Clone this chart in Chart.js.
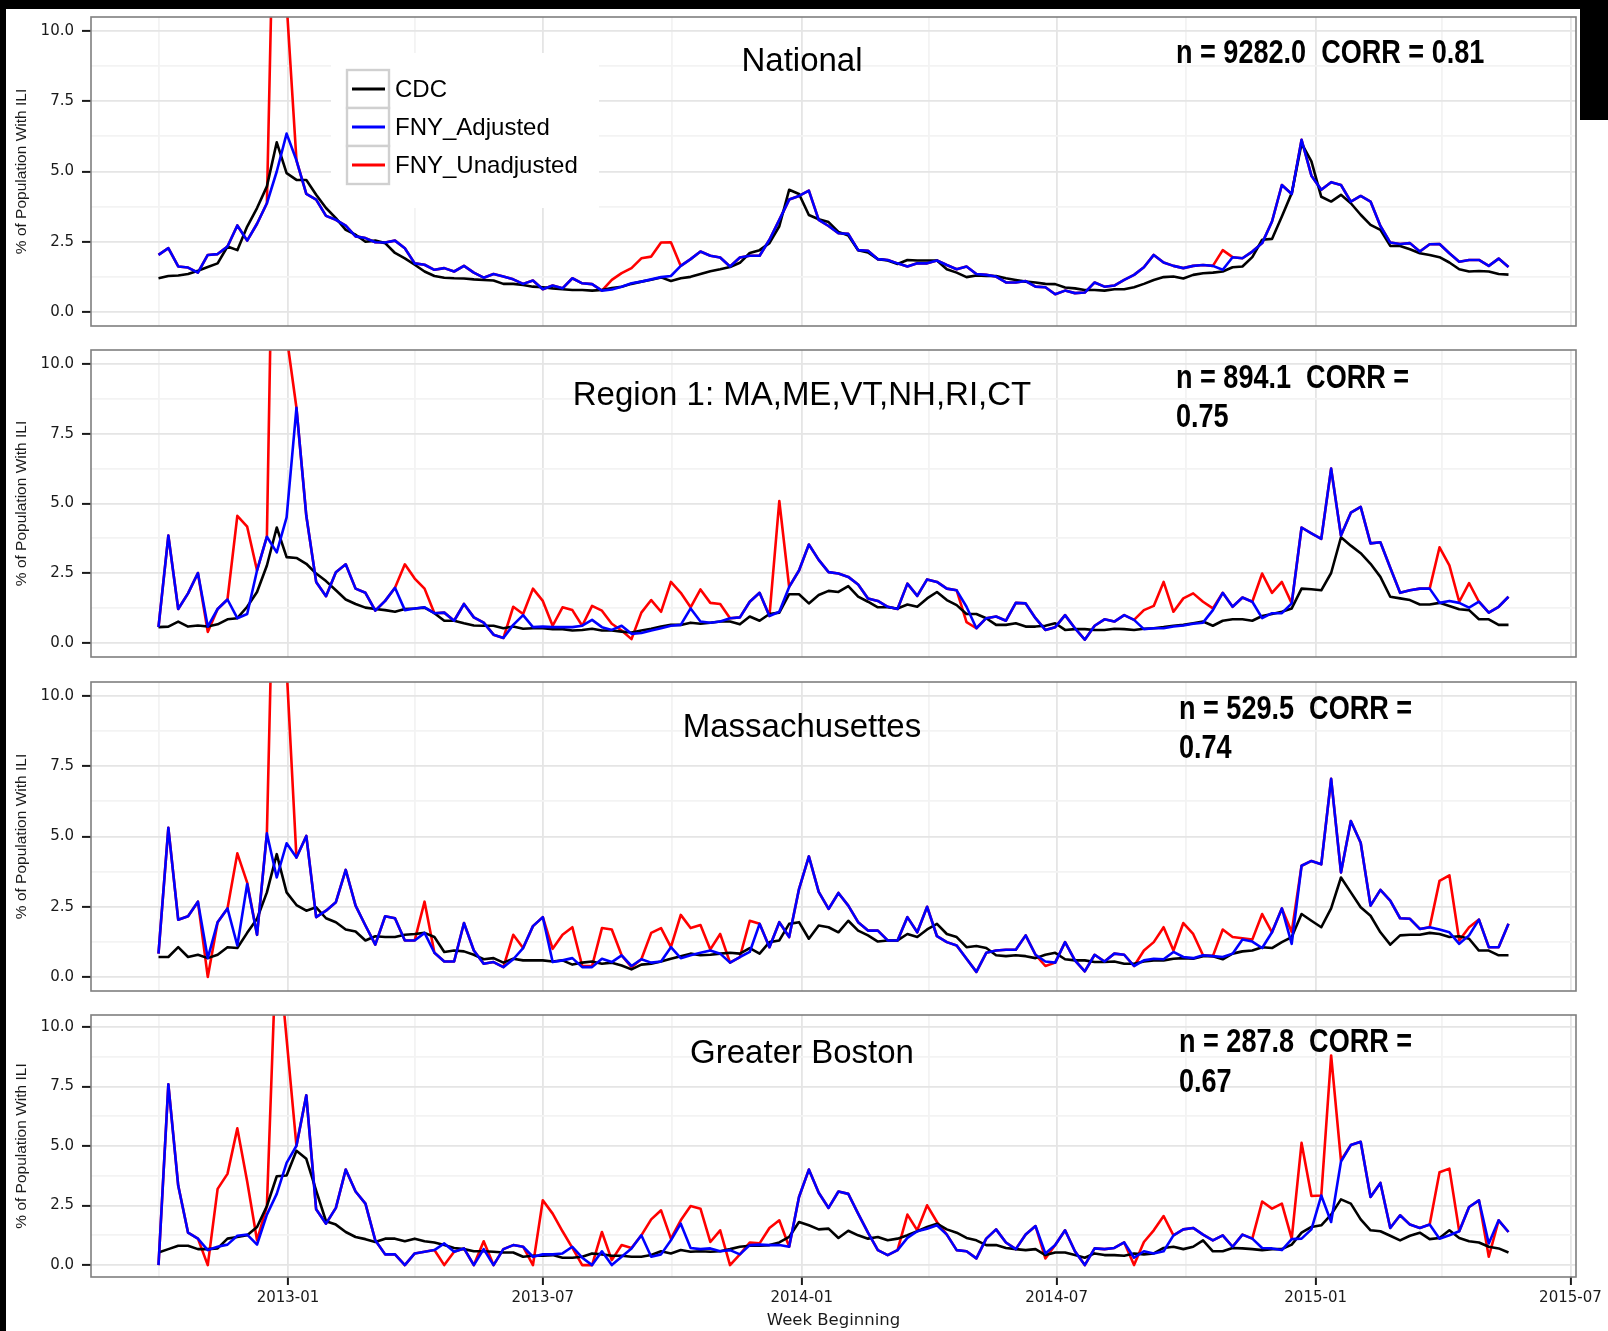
<!DOCTYPE html>
<html>
<head>
<meta charset="utf-8">
<title>ILI: CDC vs FNY</title>
<script src="https://cdn.jsdelivr.net/npm/chart.js@4.4.1/dist/chart.umd.min.js"></script>
<style>
  html, body { margin: 0; padding: 0; background: #ffffff; }
  #wrap { position: relative; width: 1608px; height: 1331px; overflow: hidden; background: #ffffff; }
  .panel { position: absolute; left: 0; width: 1608px; }
  .frame { position: absolute; background: #000000; z-index: 5; }
</style>
</head>
<body>
<div id="wrap">
  <div class="panel" id="p0"><canvas id="c0"></canvas></div>
  <div class="panel" id="p1"><canvas id="c1"></canvas></div>
  <div class="panel" id="p2"><canvas id="c2"></canvas></div>
  <div class="panel" id="p3"><canvas id="c3"></canvas></div>
  <div class="frame" style="left:0;top:0;width:1608px;height:9px"></div>
  <div class="frame" style="left:0;top:0;width:6px;height:1331px"></div>
  <div class="frame" style="left:1580px;top:0;width:28px;height:120px"></div>
</div>
<script>
// ---------------------------------------------------------------------------
// Weekly % of population with influenza-like illness, Oct 2012 - May 2015
// ---------------------------------------------------------------------------
const seriesNames  = ['CDC', 'FNY_Adjusted', 'FNY_Unadjusted'];
const seriesColors = ['#000000', '#0000ff', '#ff0000'];

const panelTitles = ['National', 'Region 1: MA,ME,VT,NH,RI,CT', 'Massachusettes', 'Greater Boston'];
const panelN      = ['9282.0', '894.1', '529.5', '287.8'];
const panelCorr   = ['0.81', '0.75', '0.74', '0.67'];

const firstWeek = '2012-10-01';   // week beginning of the first observation
const weekCount = 138;            // weekly observations through 2015-05-18

const xMajorDates  = ['2013-01-01', '2013-07-01', '2014-01-01', '2014-07-01', '2015-01-01', '2015-07-01'];
const xMajorLabels = ['2013-01', '2013-07', '2014-01', '2014-07', '2015-01', '2015-07'];
const xMinorDates  = ['2012-10-01', '2013-04-01', '2013-10-01', '2014-04-01', '2014-10-01', '2015-04-01'];

const yMajorTicks  = [0, 2.5, 5, 7.5, 10];
const yMajorLabels = ['0.0', '2.5', '5.0', '7.5', '10.0'];
const yMinorTicks  = [1.25, 3.75, 6.25, 8.75];

// ---- National ----
const nationalCDC = [
  1.2, 1.28, 1.3, 1.35, 1.47, 1.6, 1.73, 2.33, 2.2, 3.04,
  3.7, 4.47, 6.04, 4.94, 4.7, 4.7, 4.17, 3.7, 3.34, 2.92,
  2.75, 2.5, 2.54, 2.45, 2.1, 1.91, 1.68, 1.44, 1.28, 1.22,
  1.2, 1.19, 1.16, 1.14, 1.12, 1.0, 1.0, 0.96, 0.9, 0.88,
  0.84, 0.81, 0.78, 0.78, 0.76, 0.78, 0.85, 0.9, 1.0, 1.08,
  1.15, 1.23, 1.1, 1.2, 1.25, 1.35, 1.45, 1.52, 1.6, 1.75,
  2.1, 2.2, 2.45, 3.05, 4.35, 4.2, 3.45, 3.3, 3.2, 2.85,
  2.72, 2.2, 2.12, 1.88, 1.83, 1.71, 1.85, 1.83, 1.83, 1.83,
  1.52, 1.4, 1.24, 1.3, 1.28, 1.28, 1.2, 1.14, 1.08, 1.05,
  1.0, 0.99, 0.87, 0.84, 0.78, 0.78, 0.76, 0.81, 0.81, 0.88,
  1.0, 1.14, 1.24, 1.26, 1.19, 1.32, 1.38, 1.4, 1.44, 1.59,
  1.62, 1.95, 2.57, 2.6, 3.4, 4.23, 6.0, 5.36, 4.1, 3.93,
  4.17, 3.87, 3.46, 3.1, 2.92, 2.35, 2.35, 2.23, 2.09, 2.03,
  1.95, 1.76, 1.52, 1.44, 1.46, 1.44, 1.35, 1.33
];
const nationalAdjusted = [
  2.03, 2.27, 1.62, 1.58, 1.4, 2.03, 2.06, 2.33, 3.08, 2.54,
  3.14, 3.87, 5.0, 6.35, 5.4, 4.2, 4.0, 3.42, 3.28, 3.07,
  2.69, 2.63, 2.48, 2.47, 2.54, 2.27, 1.73, 1.68, 1.5, 1.56,
  1.44, 1.64, 1.4, 1.22, 1.35, 1.26, 1.16, 1.0, 1.12, 0.81,
  0.94, 0.84, 1.2, 1.02, 0.99, 0.76, 0.8, 0.9, 1.02, 1.08,
  1.16, 1.24, 1.28, 1.64, 1.88, 2.15, 2.0, 1.94, 1.62, 1.94,
  2.0, 2.0, 2.57, 3.28, 4.0, 4.13, 4.32, 3.28, 3.06, 2.8,
  2.78, 2.2, 2.18, 1.88, 1.85, 1.73, 1.62, 1.73, 1.73, 1.83,
  1.67, 1.52, 1.62, 1.35, 1.32, 1.26, 1.05, 1.05, 1.1, 0.9,
  0.88, 0.63, 0.76, 0.67, 0.69, 1.05, 0.9, 0.94, 1.14, 1.32,
  1.59, 2.03, 1.76, 1.64, 1.56, 1.64, 1.67, 1.64, 1.5, 1.95,
  1.91, 2.15, 2.45, 3.22, 4.52, 4.2, 6.13, 4.85, 4.35, 4.62,
  4.52, 3.93, 4.13, 3.93, 3.06, 2.47, 2.42, 2.45, 2.15, 2.41,
  2.42, 2.09, 1.79, 1.85, 1.85, 1.64, 1.9, 1.6
];
const nationalUnadjusted = [
  2.03, 2.27, 1.62, 1.58, 1.4, 2.03, 2.06, 2.33, 3.08, 2.54,
  3.14, 3.87, 20, 11, 5.4, 4.2, 4.0, 3.42, 3.28, 3.07,
  2.69, 2.63, 2.48, 2.47, 2.54, 2.27, 1.73, 1.68, 1.5, 1.56,
  1.44, 1.64, 1.4, 1.22, 1.35, 1.26, 1.16, 1.0, 1.12, 0.81,
  0.94, 0.84, 1.2, 1.02, 0.99, 0.76, 1.14, 1.38, 1.56, 1.91,
  1.97, 2.47, 2.48, 1.64, 1.88, 2.15, 2.0, 1.94, 1.62, 1.94,
  2.0, 2.0, 2.57, 3.28, 4.0, 4.13, 4.32, 3.28, 3.06, 2.8,
  2.78, 2.2, 2.18, 1.88, 1.85, 1.73, 1.62, 1.73, 1.73, 1.83,
  1.67, 1.52, 1.62, 1.35, 1.32, 1.26, 1.05, 1.05, 1.1, 0.9,
  0.88, 0.63, 0.76, 0.67, 0.69, 1.05, 0.9, 0.94, 1.14, 1.32,
  1.59, 2.03, 1.76, 1.64, 1.56, 1.64, 1.67, 1.64, 2.2, 1.95,
  1.91, 2.15, 2.45, 3.22, 4.52, 4.2, 6.13, 4.85, 4.35, 4.62,
  4.52, 3.93, 4.13, 3.93, 3.06, 2.47, 2.42, 2.45, 2.15, 2.41,
  2.42, 2.09, 1.79, 1.85, 1.85, 1.64, 1.9, 1.6
];

// ---- HHS Region 1 ----
const region1CDC = [
  0.57, 0.59, 0.77, 0.59, 0.63, 0.59, 0.67, 0.85, 0.89, 1.3,
  1.83, 2.78, 4.14, 3.08, 3.05, 2.84, 2.49, 2.22, 1.89, 1.56,
  1.4, 1.27, 1.22, 1.18, 1.12, 1.22, 1.24, 1.27, 1.07, 0.8,
  0.8, 0.71, 0.63, 0.62, 0.62, 0.53, 0.59, 0.51, 0.53, 0.53,
  0.5, 0.5, 0.45, 0.47, 0.51, 0.45, 0.45, 0.41, 0.38, 0.45,
  0.51, 0.59, 0.65, 0.65, 0.73, 0.69, 0.73, 0.77, 0.77, 0.67,
  0.95, 0.8, 1.04, 1.09, 1.75, 1.75, 1.42, 1.72, 1.87, 1.83,
  2.04, 1.66, 1.48, 1.28, 1.28, 1.24, 1.38, 1.3, 1.6, 1.83,
  1.54, 1.36, 1.04, 1.04, 0.89, 0.65, 0.65, 0.71, 0.59, 0.59,
  0.62, 0.71, 0.47, 0.5, 0.5, 0.47, 0.47, 0.51, 0.5, 0.47,
  0.51, 0.53, 0.57, 0.62, 0.65, 0.71, 0.77, 0.62, 0.8, 0.85,
  0.85, 0.8, 0.97, 1.04, 1.12, 1.24, 1.95, 1.93, 1.89, 2.51,
  3.79, 3.49, 3.22, 2.84, 2.37, 1.66, 1.6, 1.54, 1.38, 1.38,
  1.44, 1.33, 1.21, 1.18, 0.85, 0.85, 0.65, 0.65
];
const region1Adjusted = [
  0.57, 3.85, 1.22, 1.78, 2.51, 0.59, 1.22, 1.56, 0.89, 1.04,
  2.6, 3.81, 3.25, 4.5, 8.43, 4.56, 2.19, 1.68, 2.54, 2.82,
  1.95, 1.8, 1.16, 1.51, 1.98, 1.18, 1.24, 1.28, 1.07, 1.09,
  0.8, 1.4, 0.92, 0.73, 0.3, 0.18, 0.65, 1.0, 0.57, 0.59,
  0.57, 0.57, 0.57, 0.62, 0.83, 0.57, 0.47, 0.62, 0.33, 0.36,
  0.45, 0.53, 0.62, 0.65, 1.24, 0.77, 0.73, 0.77, 0.89, 0.92,
  1.48, 1.8, 0.97, 1.12, 2.01, 2.6, 3.53, 2.98, 2.54, 2.49,
  2.37, 2.1, 1.6, 1.51, 1.3, 1.22, 2.13, 1.69, 2.28, 2.19,
  1.95, 1.89, 1.3, 0.53, 0.89, 0.95, 0.8, 1.44, 1.42, 0.89,
  0.47, 0.57, 1.0, 0.53, 0.12, 0.62, 0.85, 0.77, 1.0, 0.83,
  0.5, 0.53, 0.53, 0.59, 0.63, 0.69, 0.73, 1.18, 1.8, 1.3,
  1.63, 1.48, 0.89, 1.07, 1.07, 1.42, 4.14, 3.93, 3.73, 6.25,
  3.85, 4.67, 4.88, 3.57, 3.61, 2.7, 1.8, 1.89, 1.95, 1.95,
  1.44, 1.51, 1.44, 1.27, 1.48, 1.09, 1.3, 1.66
];
const region1Unadjusted = [
  0.57, 3.85, 1.22, 1.78, 2.51, 0.4, 1.22, 1.56, 4.56, 4.17,
  2.6, 3.81, 24, 11, 8.43, 4.56, 2.19, 1.68, 2.54, 2.82,
  1.95, 1.8, 1.16, 1.51, 1.98, 2.82, 2.31, 1.95, 1.07, 1.09,
  0.8, 1.4, 0.92, 0.73, 0.3, 0.18, 1.3, 1.04, 1.95, 1.51,
  0.62, 1.28, 1.18, 0.62, 1.33, 1.16, 0.69, 0.45, 0.14, 1.09,
  1.54, 1.12, 2.19, 1.8, 1.28, 1.92, 1.44, 1.4, 0.89, 0.92,
  1.48, 1.8, 0.97, 5.09, 2.01, 2.6, 3.53, 2.98, 2.54, 2.49,
  2.37, 2.1, 1.6, 1.51, 1.3, 1.22, 2.13, 1.69, 2.28, 2.19,
  1.95, 1.89, 0.75, 0.53, 0.89, 0.95, 0.8, 1.44, 1.42, 0.89,
  0.47, 0.57, 1.0, 0.53, 0.12, 0.62, 0.85, 0.77, 1.0, 0.83,
  1.18, 1.33, 2.19, 1.12, 1.6, 1.78, 1.48, 1.24, 1.8, 1.3,
  1.63, 1.48, 2.49, 1.8, 2.19, 1.42, 4.14, 3.93, 3.73, 6.25,
  3.85, 4.67, 4.88, 3.57, 3.61, 2.7, 1.8, 1.89, 1.95, 1.95,
  3.43, 2.78, 1.48, 2.15, 1.48, 1.09, 1.3, 1.66
];

// ---- Massachusetts ----
const massCDC = [
  0.71, 0.71, 1.06, 0.71, 0.79, 0.67, 0.79, 1.06, 1.03, 1.57,
  2.07, 3.01, 4.37, 3.01, 2.56, 2.36, 2.48, 2.09, 1.95, 1.69,
  1.62, 1.3, 1.45, 1.42, 1.42, 1.5, 1.53, 1.57, 1.42, 0.89,
  0.94, 0.91, 0.79, 0.63, 0.67, 0.51, 0.65, 0.59, 0.59, 0.59,
  0.55, 0.59, 0.44, 0.51, 0.55, 0.47, 0.51, 0.41, 0.27, 0.44,
  0.47, 0.55, 0.65, 0.74, 0.83, 0.77, 0.79, 0.83, 0.86, 0.83,
  1.03, 0.83, 1.24, 1.3, 1.89, 1.95, 1.36, 1.83, 1.77, 1.59,
  2.0, 1.65, 1.48, 1.26, 1.3, 1.3, 1.53, 1.42, 1.69, 1.89,
  1.53, 1.42, 1.06, 1.1, 1.03, 0.77, 0.74, 0.77, 0.74, 0.67,
  0.79, 0.86, 0.63, 0.59, 0.59, 0.53, 0.53, 0.55, 0.47, 0.47,
  0.55, 0.59, 0.59, 0.65, 0.67, 0.65, 0.74, 0.74, 0.63, 0.83,
  0.91, 0.94, 1.06, 1.03, 1.24, 1.42, 2.24, 2.0, 1.77, 2.44,
  3.54, 3.01, 2.48, 2.18, 1.59, 1.15, 1.48, 1.5, 1.5, 1.57,
  1.53, 1.42, 1.45, 1.36, 0.94, 0.94, 0.77, 0.77
];
const massAdjusted = [
  0.83, 5.31, 2.04, 2.16, 2.68, 0.67, 1.95, 2.44, 1.12, 3.31,
  1.5, 5.11, 3.54, 4.76, 4.25, 5.02, 2.13, 2.36, 2.66, 3.81,
  2.54, 1.83, 1.15, 2.16, 2.09, 1.3, 1.3, 1.57, 0.86, 0.55,
  0.55, 1.92, 0.94, 0.47, 0.53, 0.35, 0.63, 1.03, 1.81, 2.13,
  0.53, 0.59, 0.67, 0.35, 0.35, 0.65, 0.53, 0.77, 0.39, 0.63,
  0.51, 0.55, 1.06, 0.67, 0.77, 0.86, 0.94, 0.83, 0.51, 0.71,
  0.89, 1.89, 1.06, 1.95, 1.42, 3.13, 4.29, 3.03, 2.42, 2.99,
  2.54, 1.95, 1.65, 1.65, 1.3, 1.3, 2.13, 1.59, 2.5, 1.45,
  1.24, 1.12, 0.65, 0.18, 0.86, 0.94, 0.97, 0.97, 1.48, 0.79,
  0.55, 0.51, 1.24, 0.59, 0.2, 0.79, 0.55, 0.83, 0.79, 0.39,
  0.59, 0.65, 0.63, 0.89, 0.71, 0.67, 0.77, 0.74, 0.71, 0.83,
  1.33, 1.26, 1.03, 1.59, 2.44, 1.18, 3.96, 4.13, 4.01, 7.05,
  3.72, 5.55, 4.78, 2.54, 3.1, 2.72, 2.09, 2.07, 1.71, 1.77,
  1.69, 1.59, 1.18, 1.48, 2.04, 1.06, 1.06, 1.89
];
const massUnadjusted = [
  0.83, 5.31, 2.04, 2.16, 2.68, 0.0, 1.95, 2.44, 4.4, 3.36,
  1.5, 5.11, 20, 11, 4.25, 5.02, 2.13, 2.36, 2.66, 3.81,
  2.54, 1.83, 1.15, 2.16, 2.09, 1.3, 1.3, 2.68, 0.86, 0.55,
  0.55, 1.92, 0.94, 0.47, 0.53, 0.35, 1.5, 1.03, 1.81, 2.13,
  1.0, 1.5, 1.77, 0.39, 0.39, 1.74, 1.69, 0.77, 0.35, 0.63,
  1.57, 1.74, 1.06, 2.21, 1.74, 1.85, 0.98, 1.53, 0.51, 0.71,
  2.0, 1.89, 1.06, 1.95, 1.42, 3.13, 4.29, 3.03, 2.42, 2.99,
  2.54, 1.95, 1.65, 1.65, 1.3, 1.3, 2.13, 1.59, 2.5, 1.45,
  1.24, 1.12, 0.65, 0.18, 0.86, 0.94, 0.97, 0.97, 1.48, 0.79,
  0.39, 0.51, 1.24, 0.59, 0.2, 0.79, 0.55, 0.83, 0.79, 0.39,
  0.94, 1.24, 1.77, 0.94, 1.92, 1.53, 0.77, 0.74, 1.69, 1.42,
  1.38, 1.33, 2.24, 1.59, 2.44, 1.6, 3.96, 4.13, 4.01, 7.05,
  3.72, 5.55, 4.78, 2.54, 3.1, 2.72, 2.09, 2.07, 1.71, 1.77,
  3.42, 3.62, 1.3, 1.77, 2.04, 1.06, 1.06, 1.89
];

// ---- Greater Boston ----
const bostonCDC = [
  0.53, 0.67, 0.81, 0.81, 0.67, 0.67, 0.7, 1.11, 1.18, 1.25,
  1.6, 2.48, 3.73, 3.76, 4.8, 4.46, 3.13, 1.84, 1.7, 1.39,
  1.18, 1.09, 0.97, 1.11, 1.11, 1.0, 1.11, 1.0, 0.95, 0.84,
  0.72, 0.67, 0.58, 0.58, 0.56, 0.53, 0.53, 0.35, 0.39, 0.39,
  0.42, 0.31, 0.31, 0.35, 0.49, 0.45, 0.39, 0.39, 0.35, 0.35,
  0.42, 0.58, 0.49, 0.63, 0.56, 0.58, 0.56, 0.58, 0.67, 0.77,
  0.81, 0.81, 0.84, 0.95, 1.18, 1.81, 1.67, 1.5, 1.53, 1.14,
  1.44, 1.25, 1.11, 1.18, 1.04, 1.11, 1.25, 1.42, 1.6, 1.74,
  1.5, 1.36, 1.14, 1.04, 0.84, 0.84, 0.72, 0.67, 0.63, 0.67,
  0.42, 0.53, 0.53, 0.42, 0.31, 0.49, 0.42, 0.42, 0.39, 0.49,
  0.45, 0.49, 0.72, 0.77, 0.67, 0.77, 1.04, 0.58, 0.58, 0.72,
  0.7, 0.67, 0.63, 0.67, 0.67, 0.86, 1.36, 1.6, 1.67, 2.12,
  2.76, 2.58, 1.92, 1.46, 1.42, 1.23, 1.04, 1.23, 1.36, 1.09,
  1.14, 1.46, 1.14, 1.0, 0.95, 0.77, 0.7, 0.53
];
const bostonAdjusted = [
  0.0, 7.59, 3.34, 1.36, 1.11, 0.63, 0.77, 0.86, 1.23, 1.28,
  0.86, 2.12, 2.99, 4.29, 5.01, 7.13, 2.34, 1.74, 2.4, 4.01,
  3.09, 2.58, 1.04, 0.45, 0.45, 0.0, 0.49, 0.56, 0.63, 0.91,
  0.56, 0.7, 0.0, 0.67, 0.0, 0.67, 0.84, 0.77, 0.35, 0.45,
  0.45, 0.49, 0.77, 0.31, 0.0, 0.58, 0.0, 0.35, 0.7, 1.25,
  0.35, 0.45, 1.04, 1.74, 0.72, 0.67, 0.7, 0.58, 0.63, 0.45,
  0.84, 0.86, 0.84, 0.84, 0.77, 2.86, 4.01, 3.04, 2.4, 3.09,
  2.99, 2.16, 1.36, 0.63, 0.42, 0.63, 1.14, 1.42, 1.53, 1.67,
  1.28, 0.63, 0.58, 0.28, 1.11, 1.5, 0.95, 0.67, 1.28, 1.64,
  0.49, 0.84, 1.46, 0.58, 0.0, 0.7, 0.67, 0.72, 0.95, 0.31,
  0.58, 0.49, 0.58, 1.25, 1.5, 1.56, 1.28, 1.04, 1.25, 0.77,
  1.28, 1.11, 0.72, 0.7, 0.63, 1.09, 1.11, 1.5, 2.92, 1.81,
  4.35, 5.04, 5.18, 2.86, 3.45, 1.56, 2.09, 1.7, 1.56, 1.7,
  1.11, 1.25, 1.42, 2.44, 2.72, 0.91, 1.88, 1.39
];
const bostonUnadjusted = [
  0.0, 7.59, 3.34, 1.36, 1.11, 0.0, 3.2, 3.83, 5.74, 3.51,
  1.04, 2.48, 14, 9.5, 5.01, 7.13, 2.34, 1.74, 2.4, 4.01,
  3.09, 2.58, 1.04, 0.45, 0.45, 0.0, 0.49, 0.56, 0.63, 0.0,
  0.56, 0.7, 0.0, 1.0, 0.0, 0.67, 0.84, 0.77, 0.0, 2.72,
  2.16, 1.42, 0.72, 0.0, 0.0, 1.39, 0.21, 0.84, 0.72, 1.25,
  1.92, 2.3, 1.11, 1.88, 2.48, 2.37, 0.97, 1.46, 0.0, 0.45,
  0.95, 0.91, 1.56, 1.88, 0.77, 2.86, 4.01, 3.04, 2.4, 3.09,
  2.99, 2.16, 1.36, 0.63, 0.42, 0.63, 2.12, 1.46, 2.51, 1.81,
  1.28, 0.63, 0.58, 0.28, 1.11, 1.5, 0.95, 0.67, 1.28, 1.64,
  0.28, 0.84, 1.46, 0.58, 0.0, 0.7, 0.67, 0.72, 0.95, 0.0,
  0.97, 1.46, 2.06, 1.25, 1.5, 1.56, 1.28, 1.04, 1.25, 0.77,
  1.28, 1.11, 2.67, 2.37, 2.58, 1.11, 5.13, 2.9, 2.92, 8.8,
  4.39, 5.04, 5.18, 2.86, 3.45, 1.56, 2.09, 1.7, 1.56, 1.7,
  3.9, 4.05, 1.42, 2.44, 2.72, 0.35, 1.88, 1.39
];

const panelSeries = [
  [nationalCDC, nationalAdjusted, nationalUnadjusted],
  [region1CDC, region1Adjusted, region1Unadjusted],
  [massCDC, massAdjusted, massUnadjusted],
  [bostonCDC, bostonAdjusted, bostonUnadjusted]
];

// ---------------------------------------------------------------------------
// Page geometry and styling
// ---------------------------------------------------------------------------
// plot: top/bottom of the panel frame, in page pixels
const panelBoxes = [
  { top: 12,   height: 317, plotTop: 17,   plotBottom: 326,  titleY: 71,     noteX: 1176, noteY: [63] },
  { top: 345,  height: 315, plotTop: 350,  plotBottom: 657,  titleY: 404.5,  noteX: 1176, noteY: [388, 427] },
  { top: 677,  height: 317, plotTop: 682,  plotBottom: 991,  titleY: 736.5,  noteX: 1179, noteY: [718.5, 757.5] },
  { top: 1010, height: 321, plotTop: 1015, plotBottom: 1277, titleY: 1062.5, noteX: 1179, noteY: [1052, 1092] }
];
const PLOT_LEFT = 91;
const PLOT_RIGHT = 1576;
const TITLE_X = 802;
const GRID_MAJOR = '#e5e5e5';
const GRID_MINOR = '#f3f3f3';
const TICK_FONT = { family: '"DejaVu Sans", sans-serif', size: 15 };
const SANS = '"Liberation Sans", Arial, Helvetica, sans-serif';

const DAY = 86400000;
const toTime = s => Date.parse(s + 'T00:00:00Z');
const weekTimes = Array.from({ length: weekCount }, (_, i) => toTime(firstWeek) + i * 7 * DAY);
const xMajorTimes = xMajorDates.map(toTime);
const xMinorTimes = xMinorDates.map(toTime);
const span = weekTimes[weekTimes.length - 1] - weekTimes[0];
const X_MIN = weekTimes[0] - 0.05 * span;
const X_MAX = weekTimes[weekTimes.length - 1] + 0.05 * span;

const isMinorX = v => xMinorTimes.includes(v);
const isMinorY = v => yMinorTicks.includes(v);

// Panel decorations: frame, title, n/CORR note and (first panel) legend
function decorPlugin(k) {
  const box = panelBoxes[k];
  return {
    id: 'panelDecor' + k,
    afterDraw(chart) {
      const ctx = chart.ctx;
      const a = chart.chartArea;
      ctx.save();
      ctx.strokeStyle = '#7f7f7f';
      ctx.lineWidth = 1.6;
      ctx.strokeRect(a.left, a.top, a.right - a.left, a.bottom - a.top);

      ctx.fillStyle = '#000';
      ctx.font = '33px ' + SANS;
      ctx.textAlign = 'center';
      ctx.textBaseline = 'alphabetic';
      ctx.fillText(panelTitles[k], TITLE_X, box.titleY - box.top);

      const lines = box.noteY.length === 1
        ? ['n = ' + panelN[k] + '  CORR = ' + panelCorr[k]]
        : ['n = ' + panelN[k] + '  CORR =', panelCorr[k]];
      ctx.font = 'bold 33px ' + SANS;
      ctx.textAlign = 'left';
      lines.forEach((line, j) => {
        ctx.save();
        ctx.translate(box.noteX, box.noteY[j] - box.top);
        ctx.scale(0.82, 1);
        ctx.fillText(line, 0, 0);
        ctx.restore();
      });

      if (k === 0) {
        const off = box.top;
        ctx.fillStyle = '#ffffff';
        ctx.fillRect(331, 53 - off, 268, 155);
        const rowTop = [70, 108, 146];
        seriesNames.forEach((name, j) => {
          const y0 = rowTop[j] - off;
          ctx.fillStyle = '#ffffff';
          ctx.fillRect(347, y0, 42, 38);
          ctx.strokeStyle = '#d0d0d0';
          ctx.lineWidth = 2.4;
          ctx.strokeRect(347, y0, 42, 38);
          ctx.strokeStyle = seriesColors[j];
          ctx.lineWidth = 3;
          ctx.beginPath();
          ctx.moveTo(352, y0 + 19);
          ctx.lineTo(385, y0 + 19);
          ctx.stroke();
          ctx.fillStyle = '#000';
          ctx.font = '24px ' + SANS;
          ctx.textAlign = 'left';
          ctx.textBaseline = 'middle';
          ctx.fillText(name, 395, y0 + 20);
        });
      }
      ctx.restore();
    }
  };
}

function makeChart(k) {
  const box = panelBoxes[k];
  const holder = document.getElementById('p' + k);
  holder.style.top = box.top + 'px';
  holder.style.height = box.height + 'px';
  const bottomPanel = k === panelBoxes.length - 1;
  const xAxisHeight = bottomPanel ? box.top + box.height - box.plotBottom : 0;
  const drawOrder = [1, 0, 2];  // adjusted on top, unadjusted underneath

  const datasets = panelSeries[k].map((values, j) => ({
    label: seriesNames[j],
    data: values.map((v, i) => ({ x: weekTimes[i], y: v })),
    borderColor: seriesColors[j],
    backgroundColor: seriesColors[j],
    borderWidth: 2.6,
    borderJoinStyle: 'round',
    pointRadius: 0,
    pointHoverRadius: 0,
    tension: 0,
    fill: false,
    clip: 0,
    order: drawOrder[j]
  }));

  const padding = {
    top: box.plotTop - box.top,
    left: 0,
    right: 1608 - PLOT_RIGHT,
    bottom: box.top + box.height - box.plotBottom - xAxisHeight
  };

  const chart = new Chart(document.getElementById('c' + k), {
    type: 'line',
    data: { datasets },
    options: {
      responsive: true,
      maintainAspectRatio: false,
      animation: false,
      devicePixelRatio: 1,
      events: [],
      layout: { padding },
      plugins: { legend: { display: false }, tooltip: { enabled: false } },
      scales: {
        x: {
          type: 'linear',
          min: X_MIN,
          max: X_MAX,
          afterBuildTicks: s => {
            s.ticks = xMinorTimes.concat(xMajorTimes).sort((a, b) => a - b).map(v => ({ value: v }));
          },
          afterFit: s => {
            s.height = xAxisHeight;
            s.paddingLeft = 0;
            s.paddingRight = 0;
            s.paddingTop = 0;
            s.paddingBottom = 0;
          },
          border: { display: false },
          grid: {
            color: c => (c.tick && isMinorX(c.tick.value)) ? GRID_MINOR : GRID_MAJOR,
            lineWidth: 1.8,
            drawTicks: bottomPanel,
            tickLength: 8,
            tickWidth: 2,
            tickColor: c => (c.tick && isMinorX(c.tick.value)) ? 'rgba(0,0,0,0)' : '#1a1a1a'
          },
          ticks: {
            display: bottomPanel,
            autoSkip: false,
            maxRotation: 0,
            minRotation: 0,
            padding: 4,
            color: '#1a1a1a',
            font: TICK_FONT,
            callback: v => {
              const i = xMajorTimes.indexOf(v);
              return i >= 0 ? xMajorLabels[i] : '';
            }
          },
          title: {
            display: bottomPanel,
            text: 'Week Beginning',
            color: '#1a1a1a',
            font: { family: '"DejaVu Sans", sans-serif', size: 16.5 },
            padding: { top: 0, bottom: 0 }
          }
        },
        y: {
          min: -0.5,
          max: 10.5,
          afterBuildTicks: s => {
            s.ticks = yMajorTicks.concat(yMinorTicks).sort((a, b) => a - b).map(v => ({ value: v }));
          },
          afterFit: s => {
            s.width = PLOT_LEFT;
            s.paddingTop = 0;
            s.paddingBottom = 0;
            s.paddingLeft = 0;
            s.paddingRight = 0;
          },
          border: { display: false },
          grid: {
            color: c => (c.tick && isMinorY(c.tick.value)) ? GRID_MINOR : GRID_MAJOR,
            lineWidth: 1.8,
            drawTicks: true,
            tickLength: 9,
            tickWidth: 2,
            tickColor: c => (c.tick && isMinorY(c.tick.value)) ? 'rgba(0,0,0,0)' : '#1a1a1a'
          },
          ticks: {
            autoSkip: false,
            padding: 8,
            color: '#1a1a1a',
            font: TICK_FONT,
            callback: v => {
              const i = yMajorTicks.indexOf(v);
              return i >= 0 ? yMajorLabels[i] : '';
            }
          },
          title: {
            display: true,
            text: '% of Population With ILI',
            color: '#1a1a1a',
            font: { family: SANS, size: 15.5 },
            padding: { top: 12, bottom: 0 }
          }
        }
      }
    },
    plugins: [decorPlugin(k)]
  });

  // Nudge the layout padding until the plot frame sits exactly where wanted
  for (let pass = 0; pass < 3; pass++) {
    const a = chart.chartArea;
    const dTop = (box.plotTop - box.top) - a.top;
    const dBottom = a.bottom - (box.plotBottom - box.top);
    const dLeft = PLOT_LEFT - a.left;
    const dRight = a.right - PLOT_RIGHT;
    if (Math.abs(dTop) < 0.5 && Math.abs(dBottom) < 0.5 && Math.abs(dLeft) < 0.5 && Math.abs(dRight) < 0.5) break;
    padding.top += dTop;
    padding.bottom += dBottom;
    padding.left = Math.max(0, padding.left + dLeft);
    padding.right += dRight;
    chart.options.layout.padding = Object.assign({}, padding);
    chart.update('none');
  }
  return chart;
}

panelBoxes.forEach((_, k) => makeChart(k));
</script>
</body>
</html>
